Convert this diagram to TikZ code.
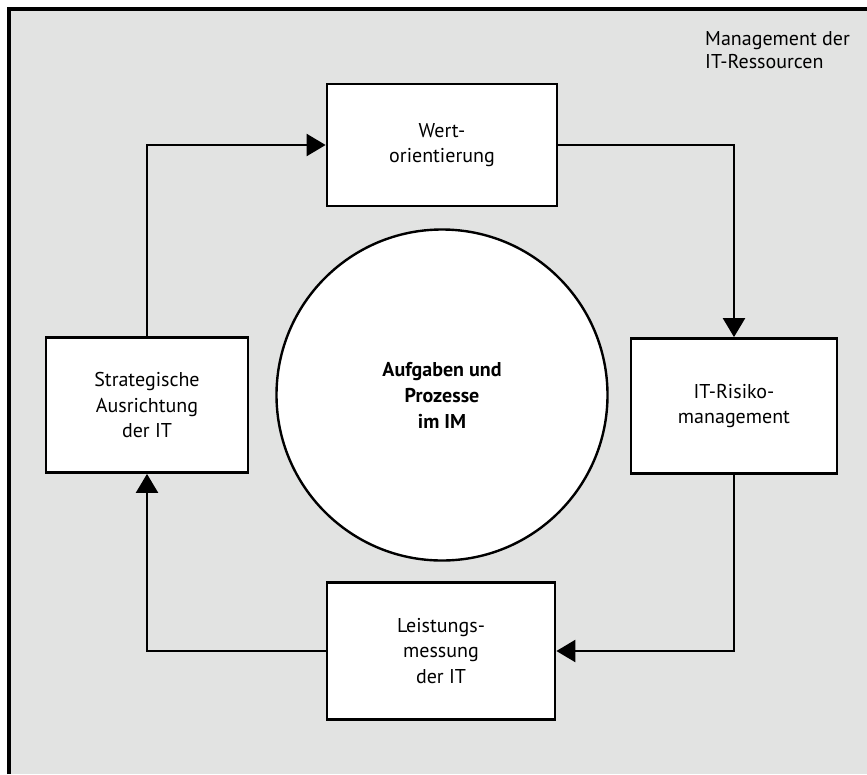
\documentclass[tikz,border=0pt]{standalone}
\usepackage{fontspec}
\setmainfont{PT Sans}
\usetikzlibrary{arrows.meta}
\definecolor{rahmengrau}{HTML}{E2E3E2}

\begin{document}
\begin{tikzpicture}[x=1pt,y=-1pt,
  kasten/.style={draw,line width=2.8pt,fill=white,align=center,font=\fontsize{20}{25.5}\selectfont},
  pfeil/.style={line width=2.4pt,-{Triangle[length=19pt,width=22pt]}}]
\useasboundingbox (0,0) rectangle (867,774);
% hintergrund
\fill[rahmengrau] (9,9) rectangle (867,774);
\draw[line width=3.5pt] (9,774) -- (9,9) -- (867,9);
\node[anchor=north west,align=left,inner sep=0pt,font=\fontsize{20}{23}\selectfont] (titel) at (705,31) {Management der\\IT-Ressourcen};
% kreis
\node[draw,circle,line width=2.4pt,fill=white,minimum size=331pt,align=center,font=\bfseries\fontsize{20}{26}\selectfont] (kern) at (442,395) {Aufgaben und\\Prozesse\\im IM};
% kaesten
\node[kasten,minimum width=230pt,minimum height=122pt] (wert) at (442,145) {Wert-\\orientierung};
\node[kasten,minimum width=206pt,minimum height=135pt] (risk) at (734,406) {IT-Risiko-\\management};
\node[kasten,minimum width=228pt,minimum height=137pt] (leist) at (441,651) {Leistungs-\\messung\\der IT};
\node[kasten,minimum width=202pt,minimum height=135pt] (strat) at (147,405) {Strategische\\Ausrichtung\\der IT};
% pfeile
\draw[pfeil] (strat.north) |- (wert.west);
\draw[pfeil] (wert.east) -| (risk.north);
\draw[pfeil] (risk.south) |- (leist.east);
\draw[pfeil] (leist.west) -| (strat.south);
\end{tikzpicture}
\end{document}
